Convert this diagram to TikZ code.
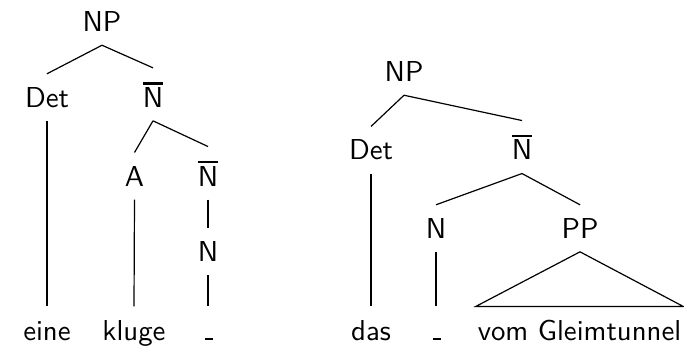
\documentclass[tikz,border=0pt]{standalone}
% N with a bar over it (N-bar category)
\newcommand\barN{\vbox{\hrule height .9pt\kern .9pt\hbox{N}}}
% empty position (trace)
\newcommand\tracemark{\leavevmode\kern.06em\vbox{\hrule width .3em height .75pt}}
\tikzset{
  cat/.style={scale=2.88, font=\sffamily, inner xsep=0pt, inner ysep=4.5pt,
    text height=6.94pt, text depth=0pt, anchor=base},
  barcat/.style={cat, text height=9pt},
  branch/.style={line width=1.2pt},
}
\begin{document}
\begin{tikzpicture}[x=1pt,y=-1pt]
\useasboundingbox (0,0) rectangle (684,347);
% first tree: eine kluge _
\node[cat]    (np1)  at (102,31.7)   {NP};
\node[cat]    (det1) at (47,107.3)   {Det};
\node[barcat] (nb1)  at (153,107.3)  {\barN};
\node[cat]    (a1)   at (134.5,186)  {A};
\node[barcat] (nb2)  at (208,186)    {\barN};
\node[cat]    (n1)   at (208,261.7)  {N};
\node[cat]    (w1)   at (47,340)     {eine};
\node[cat]    (w2)   at (134,340)    {kluge};
\node[cat]    (w3)   at (208,340)    {\tracemark};
% second tree: das _ vom Gleimtunnel
\node[cat]    (np2)  at (404,81.7)   {NP};
\node[cat]    (det2) at (371,160)    {Det};
\node[barcat] (nb3)  at (522,160)    {\barN};
\node[cat]    (n2)   at (436,238.3)  {N};
\node[cat]    (pp)   at (580,238.3)  {PP};
\node[cat]    (w4)   at (371,340)    {das};
\node[cat]    (w5)   at (436,340)    {\tracemark};
\node[cat, inner xsep=0.5pt] (w6) at (579.5,340) {vom Gleimtunnel};
% branches
\draw[branch] (np1.south) -- (det1.north);
\draw[branch] (np1.south) -- (nb1.north);
\draw[branch] (det1.south) -- (w1.north);
\draw[branch] (nb1.south) -- (a1.north);
\draw[branch] (nb1.south) -- (nb2.north);
\draw[branch] (a1.south) -- (w2.north);
\draw[branch] (nb2.south) -- (n1.north);
\draw[branch] (n1.south) -- (w3.north);
\draw[branch] (np2.south) -- (det2.north);
\draw[branch] (np2.south) -- (nb3.north);
\draw[branch] (det2.south) -- (w4.north);
\draw[branch] (nb3.south) -- (n2.north);
\draw[branch] (nb3.south) -- (pp.north);
\draw[branch] (n2.south) -- (w5.north);
\draw[branch] (pp.south) -- (w6.north west) -- (w6.north east) -- cycle;
\end{tikzpicture}
\end{document}
